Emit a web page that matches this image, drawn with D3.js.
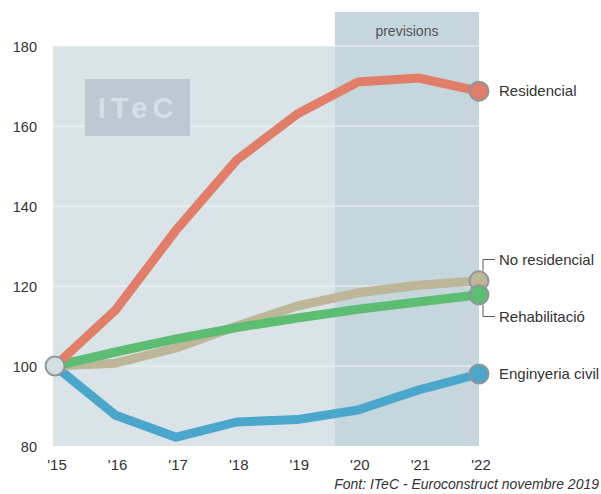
<!DOCTYPE html>
<html><head><meta charset="utf-8">
<script src="https://cdn.jsdelivr.net/npm/d3@7"></script>
<style>
body{margin:0;background:#fff;}
svg{display:block;font-family:"Liberation Sans",Arial,sans-serif;}
</style></head>
<body><svg id="c" width="601" height="494"></svg>
<script>
const years = [2015,2016,2017,2018,2019,2020,2021,2022];
const yearLabels = ["'15","'16","'17","'18","'19","'20","'21","'22"];
const yTicks = [80,100,120,140,160,180];
const residencial = [100,114,134,151.5,163,171,172,168.7];
const noResidencial = [100,100.7,104.5,110,115,118.3,120.2,121.3];
const rehabilitacio = [100,103.5,106.8,109.6,112,114.2,116,117.8];
const enginyeria = [100,87.7,82.2,86,86.6,89,94,98];
const seriesNames = ["Enginyeria civil","No residencial","Rehabilitació","Residencial"];
const seriesColors = ["#4ba6cb","#bdb699","#5dbd72","#e07e6a"];
const seriesData = [enginyeria, noResidencial, rehabilitacio, residencial];
const forecastStart = 2019.62;
const forecastLabel = "previsions";
const sourceText = "Font: ITeC - Euroconstruct novembre 2019";

const svg = d3.select("#c");
const x = d3.scaleLinear().domain([2015,2022]).range([55,479]);
const y = d3.scaleLinear().domain([80,180]).range([446,46]);
const plotLeft = 53, plotRight = x(2022), plotTop = y(180), plotBottom = y(80);

// plot background
svg.append("rect").attr("x",plotLeft).attr("y",plotTop).attr("width",plotRight-plotLeft).attr("height",plotBottom-plotTop).attr("fill","#dae4e8");
// forecast band
svg.append("rect").attr("x",x(forecastStart)).attr("y",12).attr("width",plotRight-x(forecastStart)).attr("height",plotBottom-12).attr("fill","#c6d6dd");
svg.append("text").attr("x",(x(forecastStart)+plotRight)/2).attr("y",36).attr("text-anchor","middle").attr("font-size",14).attr("fill","#555").text(forecastLabel);

// gridlines
svg.append("g").selectAll("line").data(yTicks.filter(d=>d>80)).join("line")
  .attr("x1",plotLeft).attr("x2",plotRight).attr("y1",d=>y(d)).attr("y2",d=>y(d))
  .attr("stroke","#f1f5f6").attr("stroke-width",1);

// logo
svg.append("rect").attr("x",85).attr("y",79).attr("width",105).attr("height",57).attr("fill","#bcc9d2");
svg.append("text").attr("x",138).attr("y",118).attr("text-anchor","middle").attr("font-size",29).attr("font-weight","bold").attr("letter-spacing",5).attr("fill","#d6dfe4").text("ITeC");

// y axis labels
svg.append("g").selectAll("text").data(yTicks).join("text")
  .attr("x",37).attr("y",d=>y(d)+6).attr("text-anchor","end").attr("font-size",14.5).attr("fill","#333").text(d=>d);
// x axis labels
svg.append("g").selectAll("text").data(years).join("text")
  .attr("x",d=>x(d)+2).attr("y",470).attr("text-anchor","middle").attr("font-size",15).attr("fill","#333").text((d,i)=>yearLabels[i]);

// lines
const line = d3.line().x((d,i)=>x(years[i])).y(d=>y(d));
svg.append("g").selectAll("path").data(seriesData).join("path")
  .attr("d",d=>line(d)).attr("fill","none").attr("stroke",(d,i)=>seriesColors[i])
  .attr("stroke-width",9).attr("stroke-linejoin","round").attr("stroke-linecap","round");

// start circle
svg.append("circle").attr("cx",x(2015)).attr("cy",y(100)).attr("r",9.5).attr("fill","#d3dee3").attr("stroke","#8f9599").attr("stroke-width",2);
// end circles
svg.append("g").selectAll("circle").data(seriesData).join("circle")
  .attr("cx",x(2022)).attr("cy",d=>y(d[d.length-1])).attr("r",9.5)
  .attr("fill",(d,i)=>seriesColors[i]).attr("stroke","#8f9599").attr("stroke-width",2);

// labels
const labelY = {"Residencial":y(residencial[7])+5,"No residencial":265,"Rehabilitació":322,"Enginyeria civil":y(enginyeria[7])+5};
svg.append("g").selectAll("text").data(seriesNames).join("text")
  .attr("x",499).attr("y",d=>labelY[d]).attr("font-size",15).attr("fill","#333").text(d=>d);
// brackets
svg.append("path").attr("d",`M483,${y(noResidencial[7])-10}V259.5H495`).attr("fill","none").attr("stroke","#555").attr("stroke-width",1);
svg.append("path").attr("d",`M483,${y(rehabilitacio[7])+10}V316.5H495`).attr("fill","none").attr("stroke","#555").attr("stroke-width",1);

// source
svg.append("text").attr("x",599).attr("y",489).attr("text-anchor","end").attr("font-size",14).attr("font-style","italic").attr("fill","#333").text(sourceText);
</script></body></html>
